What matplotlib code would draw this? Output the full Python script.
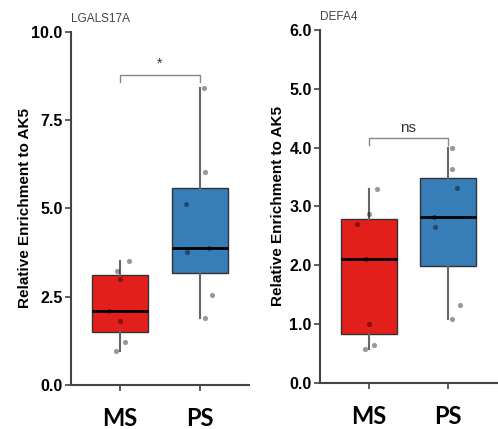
import numpy as np
import matplotlib.pyplot as plt

# Valeurs par groupe (MS / PS) pour chaque gène
grupos = ['MS', 'PS']
lgals17a_ms = [0.96, 1.22, 1.80, 2.10, 3.00, 3.23, 3.52]
lgals17a_ps = [1.89, 2.56, 3.77, 3.89, 5.11, 6.02, 8.40]
defa4_ms = [0.58, 0.65, 1.00, 2.11, 2.71, 2.87, 3.30]
defa4_ps = [1.09, 1.33, 2.66, 2.83, 3.32, 3.64, 4.00]

# Décalages horizontaux des points (jitter)
jitter_lgals_ms = [-0.05, 0.067, 0.0, -0.14, 0.0, -0.033, 0.108]
jitter_lgals_ps = [0.058, 0.146, -0.167, 0.108, -0.179, 0.058, 0.05]
jitter_defa_ms = [-0.05, 0.067, 0.0, -0.03, -0.14, 0.0, 0.11]
jitter_defa_ps = [0.05, 0.146, -0.167, -0.18, 0.11, 0.046, 0.05]

colores = ['#E31F1C', '#377EB8']
eje_color = '#444444'
fuente = 'Liberation Sans'

plt.rcParams['font.family'] = fuente


def panel(ax, datos, jitters, titulo, ymax, ticks, bracket_y, etiqueta_sig, sig_y, sig_size, label_x):
    pos = [1, 2]
    bp = ax.boxplot(datos, positions=pos, widths=0.7, patch_artist=True,
                    showcaps=False, showfliers=False, whis=1.5,
                    medianprops=dict(color='black', linewidth=2),
                    whiskerprops=dict(color='#666666', linewidth=1.5),
                    boxprops=dict(edgecolor='#333333', linewidth=1.0))
    for caja, c in zip(bp['boxes'], colores):
        caja.set_facecolor(c)
    for p, vals, jit in zip(pos, datos, jitters):
        ax.scatter(np.array(jit) + p, vals, s=14, color='black', alpha=0.4,
                   linewidths=0, zorder=5)

    # corchete de comparación
    drop = ymax * 0.02
    ax.plot([1, 1, 2, 2], [bracket_y - drop, bracket_y, bracket_y, bracket_y - drop],
            color='#888888', linewidth=1.0, clip_on=False)
    ax.text(1.5, sig_y, etiqueta_sig, ha='center', va='center', fontsize=sig_size,
            color='#333333')

    ax.set_xlim(0.39, 2.61)
    ax.set_ylim(0, ymax)
    ax.set_yticks(ticks)
    ax.set_yticklabels(['{:.1f}'.format(t) for t in ticks], fontsize=11.5, fontweight='bold')
    ax.set_xticks(pos)
    ax.set_xticklabels(grupos, fontsize=17, fontweight='bold', family='Lato')
    ax.tick_params(axis='y', length=4, width=1.2, color=eje_color, pad=2)
    ax.tick_params(axis='x', length=4, width=1.2, color=eje_color, pad=12)
    for lado in ['top', 'right']:
        ax.spines[lado].set_visible(False)
    for lado in ['left', 'bottom']:
        ax.spines[lado].set_color(eje_color)
        ax.spines[lado].set_linewidth(1.5)
    ax.set_ylabel('Relative Enrichment to AK5', fontsize=11, fontweight='bold')
    ax.yaxis.set_label_coords(label_x, 0.5)
    ax.text(0.0, 1.02, titulo, transform=ax.transAxes, ha='left', va='bottom',
            fontsize=8.5, color='#444444')


fig = plt.figure(figsize=(4.98, 4.29), dpi=100)
ax1 = fig.add_axes([0.1426, 0.1026, 0.3574, 0.8235])
ax2 = fig.add_axes([0.6426, 0.1072, 0.3554, 0.8229])

panel(ax1, [lgals17a_ms, lgals17a_ps], [jitter_lgals_ms, jitter_lgals_ps], 'LGALS17A',
      10.0, [0, 2.5, 5.0, 7.5, 10.0], 8.77, '*', 9.1, 10, -0.219)
panel(ax2, [defa4_ms, defa4_ps], [jitter_defa_ms, jitter_defa_ps], 'DEFA4',
      6.0, [0, 1, 2, 3, 4, 5, 6], 4.17, 'ns', 4.33, 11, -0.198)

fig.savefig('out.png', dpi=100)
